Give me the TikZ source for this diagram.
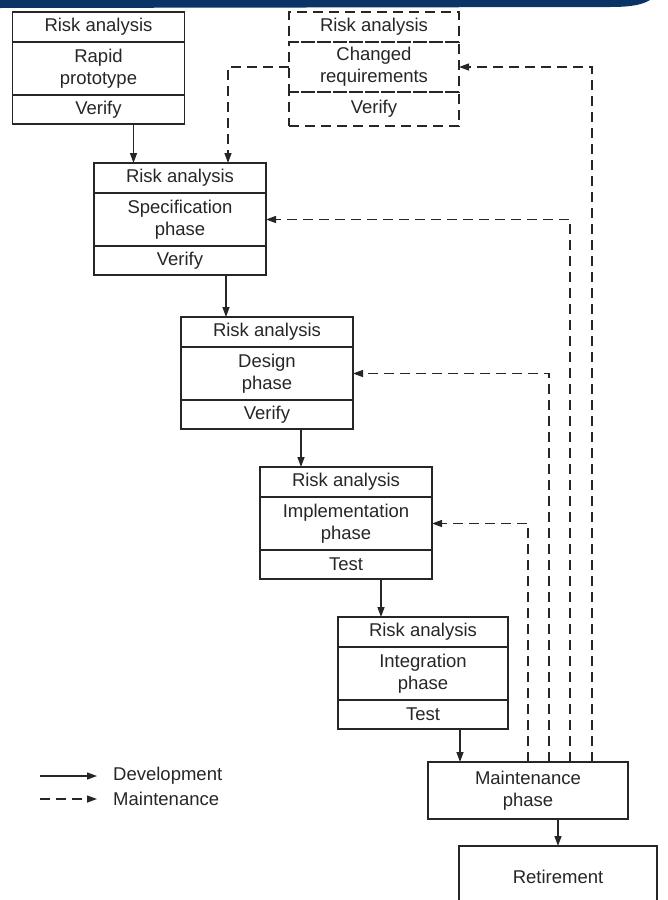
\documentclass[tikz,border=0pt]{standalone}
\usepackage{fontspec}
\setmainfont{Liberation Sans}
\usetikzlibrary{positioning,arrows.meta}
\definecolor{banner}{HTML}{0B3466}
\definecolor{ink}{HTML}{262626}

\begin{document}
\begin{tikzpicture}
      [x=1pt, y=1pt,
        part/.style={draw=ink, line width=1.3pt, outer sep=0pt, minimum width=172pt,
          align=center, text=ink, font=\fontsize{18.5}{22}\selectfont},
        risk/.style={part, minimum height=30pt},
        work/.style={part, minimum height=53pt},
        check/.style={part, minimum height=29pt},
        redo/.style={dash pattern=on 10pt off 6pt},
        dev/.style={draw=ink, line width=1.3pt, -{Triangle[length=10pt,width=7pt]}},
        mnt/.style={dev, dash pattern=on 10pt off 6pt},
        legend/.style={anchor=west, inner sep=0pt, text=ink, font=\fontsize{18.5}{22}\selectfont}]
      \useasboundingbox (0,0) rectangle (667,-900);
      \fill[banner] (0,0) -- (650,0) .. controls (642,-5) and (630,-7) .. (610,-7) -- (0,-8) -- cycle;
      % rapid prototype
      \node[risk] (proto-r) at (98.5,-27) {Risk analysis};
      \node[work, below=0pt of proto-r] (proto-m) {Rapid\\prototype};
      \node[check, below=0pt of proto-m] (proto-v) {Verify};
      % changed requirements
      \node[risk, redo, minimum width=170pt] (chg-r) at (374,-27) {Risk analysis};
      \node[work, redo, minimum width=170pt, minimum height=50pt, below=0pt of chg-r] (chg-m) {Changed\\requirements};
      \node[check, redo, minimum width=170pt, minimum height=34pt, below=0pt of chg-m] (chg-v) {Verify};
      % specification
      \node[risk] (spec-r) at (180,-178) {Risk analysis};
      \node[work, below=0pt of spec-r] (spec-m) {Specification\\phase};
      \node[check, below=0pt of spec-m] (spec-v) {Verify};
      % design
      \node[risk] (design-r) at (267,-332) {Risk analysis};
      \node[work, below=0pt of design-r] (design-m) {Design\\phase};
      \node[check, below=0pt of design-m] (design-v) {Verify};
      % implementation
      \node[risk] (impl-r) at (346,-482) {Risk analysis};
      \node[work, below=0pt of impl-r] (impl-m) {Implementation\\phase};
      \node[check, below=0pt of impl-m] (impl-v) {Test};
      % integration
      \node[risk, minimum width=170pt] (integ-r) at (423,-632) {Risk analysis};
      \node[work, minimum width=170pt, below=0pt of integ-r] (integ-m) {Integration\\phase};
      \node[check, minimum width=170pt, below=0pt of integ-m] (integ-v) {Test};
      \node[part, minimum width=200pt, minimum height=57pt] (maint) at (528,-790.5) {Maintenance\\phase};
      \node[part, minimum width=198pt, minimum height=62pt] (retire) at (558,-877) {Retirement};
      % development flow
      \draw[dev] ([xshift=35pt]proto-v.south) -- ([xshift=35pt]proto-v.south |- spec-r.north);
      \draw[dev] ([xshift=46pt]spec-v.south) -- ([xshift=46pt]spec-v.south |- design-r.north);
      \draw[dev] ([xshift=34pt]design-v.south) -- ([xshift=34pt]design-v.south |- impl-r.north);
      \draw[dev] ([xshift=35pt]impl-v.south) -- ([xshift=35pt]impl-v.south |- integ-r.north);
      \draw[dev] ([xshift=37pt]integ-v.south) -- ([xshift=37pt]integ-v.south |- maint.north);
      \draw[dev] (maint.south -| retire.north) -- (retire.north);
      % maintenance flow
      \draw[mnt] (chg-m.west) -| ([xshift=48pt]spec-r.north);
      \draw[mnt] ([xshift=64pt]maint.north) |- (chg-m.east);
      \draw[mnt] ([xshift=42pt]maint.north) |- (spec-m.east);
      \draw[mnt] ([xshift=21pt]maint.north) |- (design-m.east);
      \draw[mnt] (maint.north) |- (impl-m.east);
      % legend
      \coordinate (leg-dev) at (40,-776);
      \coordinate (leg-mnt) at (40,-799);
      \node[legend] (dev-txt) at (113,-776) {Development};
      \node[legend] (mnt-txt) at (113,-799) {Maintenance};
      \draw[dev] (leg-dev) -- ([xshift=-16pt]dev-txt.west);
      \draw[mnt] (leg-mnt) -- ([xshift=-16pt]mnt-txt.west);
\end{tikzpicture}
\end{document}
